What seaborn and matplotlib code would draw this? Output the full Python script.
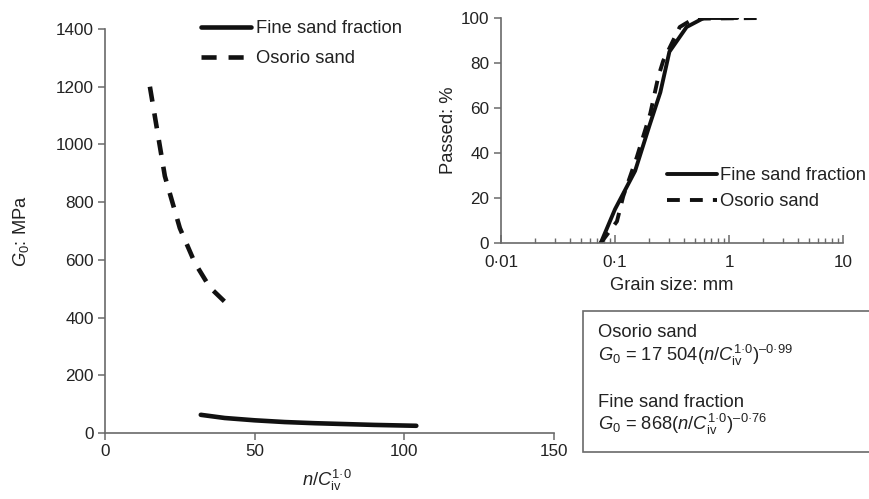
import matplotlib
matplotlib.use("Agg")
import matplotlib.pyplot as plt
import seaborn as sns
import pandas as pd
from matplotlib.patches import Rectangle
from matplotlib.ticker import FixedLocator, LogLocator, NullFormatter

# ---- data ----
osorio_x = [15, 20, 25, 30, 35, 42]
osorio_g0 = [1200, 890, 710, 590, 505, 435]
fine_x = [32, 40, 50, 60, 70, 80, 90, 104]
fine_g0 = [63, 52, 44, 38, 34, 31, 28, 25]

grain_fine = [0.075, 0.1, 0.15, 0.2, 0.25, 0.3, 0.425, 0.6, 1.18]
passed_fine = [0, 15, 32, 52, 67, 85, 96, 100, 100]
grain_osorio = [0.075, 0.104, 0.118, 0.155, 0.204, 0.24, 0.265, 0.37, 0.49, 2.0]
passed_osorio = [0, 9.6, 20.7, 38, 57.6, 74, 81, 96, 99.7, 100]

main_yticks = [0, 200, 400, 600, 800, 1000, 1200, 1400]
main_xticks = [0, 50, 100, 150]
inset_xticks = [0.01, 0.1, 1, 10]
inset_xticklabels = ["0\u00b701", "0\u00b71", "1", "10"]
inset_yticks = [0, 20, 40, 60, 80, 100]

label_fine = "Fine sand fraction"
label_osorio = "Osorio sand"

MD = "\u00b7"
EN = "\u2013"
NC = r"$n$/$C_{\mathrm{iv}}^{\mathrm{1" + MD + r"0}}$"

# ---- style ----
sns.set_theme(style="ticks")
plt.rcParams["font.family"] = ["Liberation Sans", "DejaVu Sans"]
plt.rcParams["mathtext.fontset"] = "custom"
plt.rcParams["mathtext.rm"] = "Liberation Sans"
plt.rcParams["mathtext.it"] = "Liberation Sans:italic"
plt.rcParams["mathtext.bf"] = "Liberation Sans:bold"

FS = 13.2      # labels / legends / box text
FT = 12.3      # tick labels
SPINE = "#6a6a6a"
TXT = "#222222"
DASH = (0, (3.3, 2.6))

fig = plt.figure(figsize=(8.69, 4.99), dpi=100)

# ---- main axes ----
ax = fig.add_axes([105 / 869, 1 - 433 / 499, (554 - 105) / 869, (433 - 29) / 499])
df_f = pd.DataFrame({"x": fine_x, "y": fine_g0})
df_o = pd.DataFrame({"x": osorio_x, "y": osorio_g0})
sns.lineplot(data=df_f, x="x", y="y", ax=ax, color="#111111", lw=3.3,
             sort=False, estimator=None, label=label_fine)
sns.lineplot(data=df_o, x="x", y="y", ax=ax, color="#111111", lw=3.3,
             sort=False, estimator=None, label=label_osorio, linestyle=DASH)
ax.set_xlim(0, 150)
ax.set_ylim(0, 1400)
ax.set_xticks(main_xticks)
ax.set_yticks(main_yticks)
ax.set_xticklabels([str(v) for v in main_xticks])
ax.set_yticklabels([str(v) for v in main_yticks])
for s in ("top", "right"):
    ax.spines[s].set_visible(False)
for s in ("left", "bottom"):
    ax.spines[s].set_color(SPINE)
    ax.spines[s].set_linewidth(1.2)
ax.tick_params(axis="both", direction="out", length=5, width=1.1, color=SPINE,
               labelsize=FT, labelcolor=TXT, pad=3)
ax.set_xlabel("")
ax.set_ylabel(r"$G_0$: MPa", fontsize=FS, color=TXT, labelpad=18)
fig.text(327 / 869, 1 - 486 / 499, NC,
         fontsize=FS, color=TXT, ha="center", va="baseline")
leg = ax.legend(loc="upper left", bbox_to_anchor=(201 / 869, 1 - 20 / 499),
                bbox_transform=fig.transFigure, frameon=False, fontsize=FS,
                handlelength=2.7, handletextpad=0.3, labelspacing=0.72,
                borderaxespad=0, borderpad=0)
for t in leg.get_texts():
    t.set_color(TXT)

# ---- inset axes ----
ax2 = fig.add_axes([501 / 869, 1 - 243 / 499, (843 - 501) / 869, (243 - 18) / 499])
df_gf = pd.DataFrame({"x": grain_fine, "y": passed_fine})
df_go = pd.DataFrame({"x": grain_osorio, "y": passed_osorio})
sns.lineplot(data=df_gf, x="x", y="y", ax=ax2, color="#111111", lw=2.8,
             sort=False, estimator=None, label=label_fine)
sns.lineplot(data=df_go, x="x", y="y", ax=ax2, color="#111111", lw=2.8,
             sort=False, estimator=None, label=label_osorio, linestyle=DASH)
ax2.set_xscale("log")
ax2.set_xlim(0.01, 10)
ax2.set_ylim(0, 100)
ax2.xaxis.set_major_locator(FixedLocator(inset_xticks))
ax2.set_xticklabels(inset_xticklabels)
ax2.xaxis.set_minor_locator(LogLocator(base=10, subs=[2, 3, 4, 5, 6, 7, 8, 9]))
ax2.xaxis.set_minor_formatter(NullFormatter())
ax2.set_yticks(inset_yticks)
ax2.set_yticklabels([str(v) for v in inset_yticks])
for s in ("top", "right"):
    ax2.spines[s].set_visible(False)
for s in ("left", "bottom"):
    ax2.spines[s].set_color(SPINE)
    ax2.spines[s].set_linewidth(1.2)
ax2.tick_params(axis="y", direction="out", length=5, width=1.1, color=SPINE,
                labelsize=FT, labelcolor=TXT)
ax2.tick_params(axis="x", which="major", direction="in", length=6, width=1.1,
                color=SPINE, labelsize=FT, labelcolor=TXT, pad=9)
ax2.tick_params(axis="x", which="minor", direction="in", length=3.5, width=1.0,
                color=SPINE)
ax2.set_xlabel("Grain size: mm", fontsize=FS, color=TXT, labelpad=5)
ax2.set_ylabel("Passed: %", fontsize=FS, color=TXT, labelpad=3)
leg2 = ax2.legend(loc="upper left", bbox_to_anchor=(667 / 869, 1 - 167 / 499),
                  bbox_transform=fig.transFigure, frameon=False, fontsize=FS,
                  handlelength=2.7, handletextpad=0.2, labelspacing=0.5,
                  borderaxespad=0, borderpad=0)
for t in leg2.get_texts():
    t.set_color(TXT)

# ---- equation box ----
box = Rectangle((583 / 869, 1 - 452 / 499), 0.5, (452 - 311) / 499,
                transform=fig.transFigure, facecolor="white",
                edgecolor=SPINE, lw=1.2, clip_on=False, zorder=5)
fig.add_artist(box)
tx = 598 / 869
eq_osorio = r"$G_0$ = 17 504(" + NC + r")$^{\mathrm{" + EN + "0" + MD + r"99}}$"
eq_fine = r"$G_0$ = 868(" + NC + r")$^{\mathrm{" + EN + "0" + MD + r"76}}$"
fig.text(tx, 1 - 337 / 499, label_osorio, fontsize=FS, color=TXT,
         va="baseline", zorder=6)
fig.text(tx, 1 - 361 / 499, eq_osorio, fontsize=FS, color=TXT,
         va="baseline", zorder=6)
fig.text(tx, 1 - 407 / 499, label_fine, fontsize=FS, color=TXT,
         va="baseline", zorder=6)
fig.text(tx, 1 - 430 / 499, eq_fine, fontsize=FS, color=TXT,
         va="baseline", zorder=6)

fig.savefig("out.png", dpi=100)
